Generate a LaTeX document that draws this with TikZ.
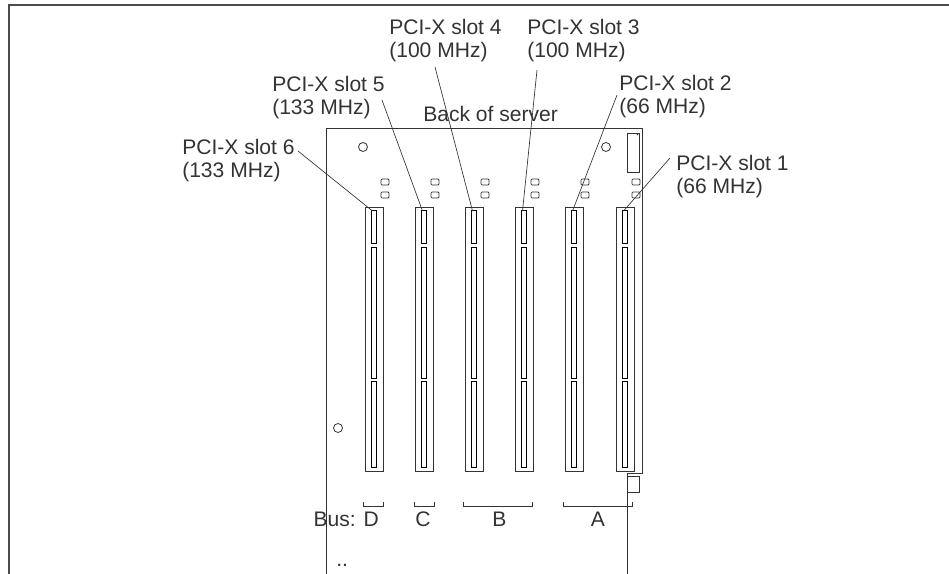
\documentclass[tikz,border=0pt]{standalone}
\usepackage{fontspec}
\setmainfont{Liberation Sans}
\usetikzlibrary{positioning}

\definecolor{ink}{gray}{0.2}

\tikzset{
	lbl/.style={inner sep=0pt, text=ink, font=\fontsize{15.8}{17.5}\selectfont},
	board/.style={draw=ink, line width=0.6pt},
	leader/.style={draw=ink, line width=0.5pt},
	conn/.style={draw=black, line width=0.75pt, fill=white}
}

\begin{document}
\begin{tikzpicture}[x=0.75pt,y=-0.75pt]
	\useasboundingbox (0,0) rectangle (949,574);

	% frame
	\draw[black!70, line width=1.3pt] (949,5) -- (9,5) -- (9,574);

	% board outline
	\draw[board] (326,574) -- (326,128) -- (642,128) -- (642,473) -- (627,473) -- (627,574);
	\draw[board] (627,476) rectangle (639,492);
	\draw[board] (627,133) rectangle (639,172);
	\fill[ink] (637.5,134.5) circle (0.9);
	\draw[board] (363,147) circle (4.5);
	\draw[board] (606,147) circle (4.5);
	\draw[board] (338,428) circle (4.5);

	% slots
	\foreach \i/\x in {6/374,5/424,4/474,3/524,2/574,1/625} {
		\coordinate (top\i) at (\x,207);
		\coordinate (tip\i) at (\x-1.5,211);
		\draw[board] (\x-9,207) rectangle (\x+9,471);
		\draw[conn] (\x-2.3,210) rectangle (\x+2.3,243);
		\draw[conn] (\x-2.3,247) rectangle (\x+2.3,378);
		\draw[conn] (\x-2.3,381) rectangle (\x+2.3,467);
		\draw[board, rounded corners=0.8] (\x+7,179) rectangle (\x+15,185);
		\draw[board, rounded corners=0.8] (\x+7,192) rectangle (\x+15,198);
	}

	% labels
	\node[lbl, anchor=north west, align=left] (lab6) at (182,139) {PCI-X slot 6\\(133 MHz)};
	\node[lbl, anchor=north west, align=left] (lab5) at (272,76) {PCI-X slot 5\\(133 MHz)};
	\node[lbl, anchor=north west, align=left] (lab4) at (389,19) {PCI-X slot 4\\(100 MHz)};
	\node[lbl, anchor=north west, align=left] (lab3) at (527,19) {PCI-X slot 3\\(100 MHz)};
	\node[lbl, anchor=north west, align=left] (lab2) at (619,75) {PCI-X slot 2\\(66 MHz)};
	\node[lbl, anchor=north west, align=left] (lab1) at (676,155) {PCI-X slot 1\\(66 MHz)};
	\node[lbl, anchor=base west] (back) at (423,122) {Back of server};

	\foreach \i/\dx/\dy in {6/116/12,5/110/24,4/46/48,3/10/51,2/-2/20,1/-6/3}
		\draw[leader] ([shift={(\dx,\dy)}]lab\i.north west) -- (tip\i);

	% buses
	\draw[board] (363,502) -- (363,506) -- (383,506) -- (383,502);
	\draw[board] (414,502) -- (414,506) -- (434,506) -- (434,502);
	\draw[board] (463,502) -- (463,506) -- (532,506) -- (532,502);
	\draw[board] (563,502) -- (563,506) -- (632,506) -- (632,502);
	\node[lbl, anchor=base east] (busD) at (379,526) {Bus: D};
	\node[lbl, anchor=base] (busC) at (423,526) {C};
	\node[lbl, anchor=base] (busB) at (499.5,526) {B};
	\node[lbl, anchor=base] (busA) at (598,526) {A};
	\node[lbl, anchor=base west] (dots) at (336,566) {..};
\end{tikzpicture}
\end{document}
